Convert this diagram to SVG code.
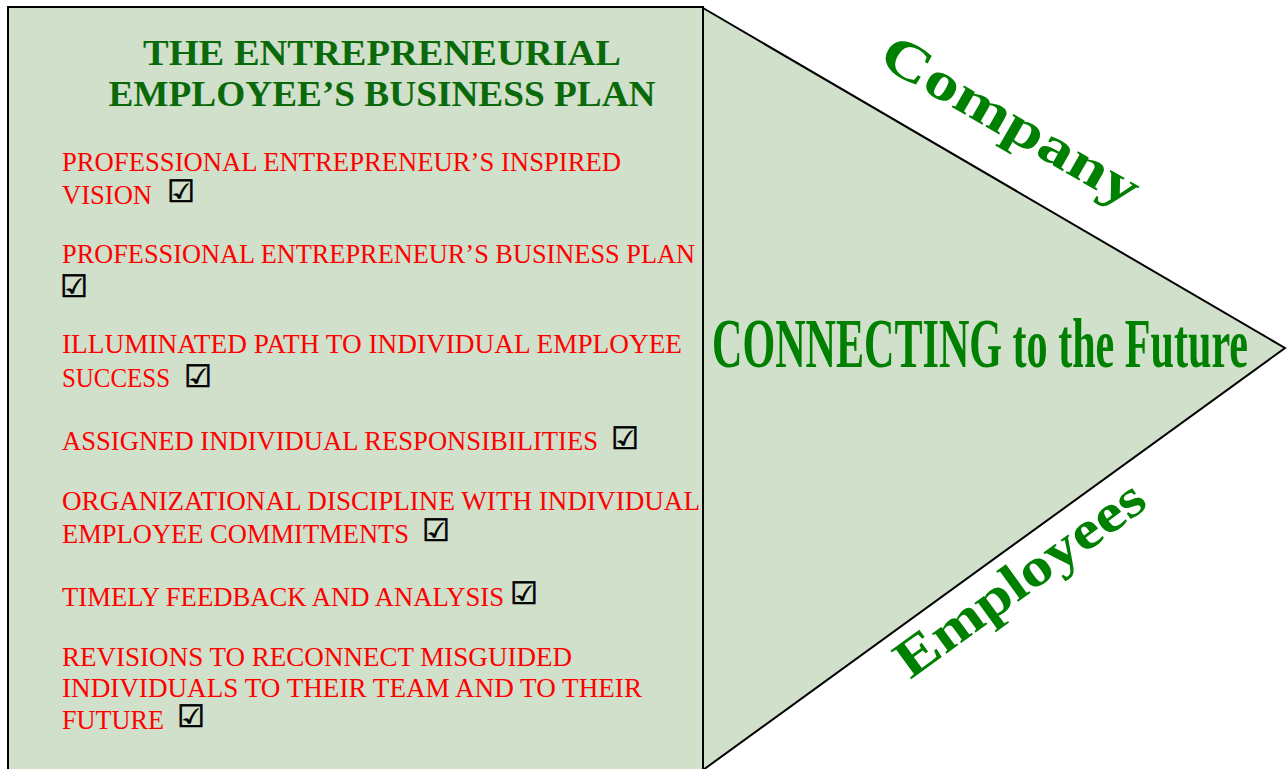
<svg xmlns="http://www.w3.org/2000/svg" width="1288" height="769" viewBox="0 0 1288 769">
<style>
.shape{fill:#d0e0cb;stroke:#000;stroke-width:2}
.title{font-family:"Liberation Serif","Times New Roman",serif;font-weight:bold;font-size:36px;fill:#0a6a0a;text-anchor:middle}
.item{font-family:"Liberation Serif","Times New Roman",serif;font-size:27px;fill:#ff0000}
.chk{font-family:"DejaVu Sans",sans-serif;font-size:31px;fill:#000;stroke:#000;stroke-width:0.7}
.big{font-family:"Liberation Serif","Times New Roman",serif;font-weight:bold;fill:#008000}
</style>
<rect width="1288" height="769" fill="#fff"/>
<g id="arrow-head">
<polygon class="shape" points="703,8 1285,348 703,770"/>
</g>
<g id="plan-box">
<rect class="shape" x="8" y="7" width="695" height="775"/>
<text class="title" x="382" y="65" textLength="478" lengthAdjust="spacingAndGlyphs">THE ENTREPRENEURIAL</text>
<text class="title" x="382" y="106" textLength="547" lengthAdjust="spacingAndGlyphs">EMPLOYEE’S BUSINESS PLAN</text>
</g>
<g id="item1">
<text class="item" x="62" y="171" textLength="559" lengthAdjust="spacingAndGlyphs">PROFESSIONAL ENTREPRENEUR’S INSPIRED</text>
<text class="item" x="62" y="204" textLength="90" lengthAdjust="spacingAndGlyphs">VISION</text>
<text class="chk" x="167" y="202">☑</text>
</g>
<g id="item2">
<text class="item" x="62" y="263" textLength="633" lengthAdjust="spacingAndGlyphs">PROFESSIONAL ENTREPRENEUR’S BUSINESS PLAN</text>
<text class="chk" x="60" y="297">☑</text>
</g>
<g id="item3">
<text class="item" x="62" y="353" textLength="620" lengthAdjust="spacingAndGlyphs">ILLUMINATED PATH TO INDIVIDUAL EMPLOYEE</text>
<text class="item" x="62" y="387" textLength="108" lengthAdjust="spacingAndGlyphs">SUCCESS</text>
<text class="chk" x="184" y="387">☑</text>
</g>
<g id="item4">
<text class="item" x="62" y="450" textLength="536" lengthAdjust="spacingAndGlyphs">ASSIGNED INDIVIDUAL RESPONSIBILITIES</text>
<text class="chk" x="611" y="449">☑</text>
</g>
<g id="item5">
<text class="item" x="62" y="510" textLength="638" lengthAdjust="spacingAndGlyphs">ORGANIZATIONAL DISCIPLINE WITH INDIVIDUAL</text>
<text class="item" x="62" y="543" textLength="347" lengthAdjust="spacingAndGlyphs">EMPLOYEE COMMITMENTS</text>
<text class="chk" x="422" y="541">☑</text>
</g>
<g id="item6">
<text class="item" x="62" y="606" textLength="442" lengthAdjust="spacingAndGlyphs">TIMELY FEEDBACK AND ANALYSIS</text>
<text class="chk" x="510" y="604">☑</text>
</g>
<g id="item7">
<text class="item" x="62" y="666" textLength="510" lengthAdjust="spacingAndGlyphs">REVISIONS TO RECONNECT MISGUIDED</text>
<text class="item" x="62" y="697" textLength="580" lengthAdjust="spacingAndGlyphs">INDIVIDUALS TO THEIR TEAM AND TO THEIR</text>
<text class="item" x="62" y="729" textLength="102" lengthAdjust="spacingAndGlyphs">FUTURE</text>
<text class="chk" x="177" y="727">☑</text>
</g>
<g id="company">
<text class="big" font-size="54" text-anchor="middle" transform="translate(1002,136) rotate(30)" textLength="290" lengthAdjust="spacingAndGlyphs">Company</text>
</g>
<g id="employees">
<text class="big" font-size="54" text-anchor="middle" transform="translate(1030,593) rotate(-36)" textLength="296" lengthAdjust="spacingAndGlyphs">Employees</text>
</g>
<g id="connecting">
<text class="big" x="712" y="367" font-size="70" textLength="536" lengthAdjust="spacingAndGlyphs">CONNECTING to the Future</text>
</g>
</svg>
